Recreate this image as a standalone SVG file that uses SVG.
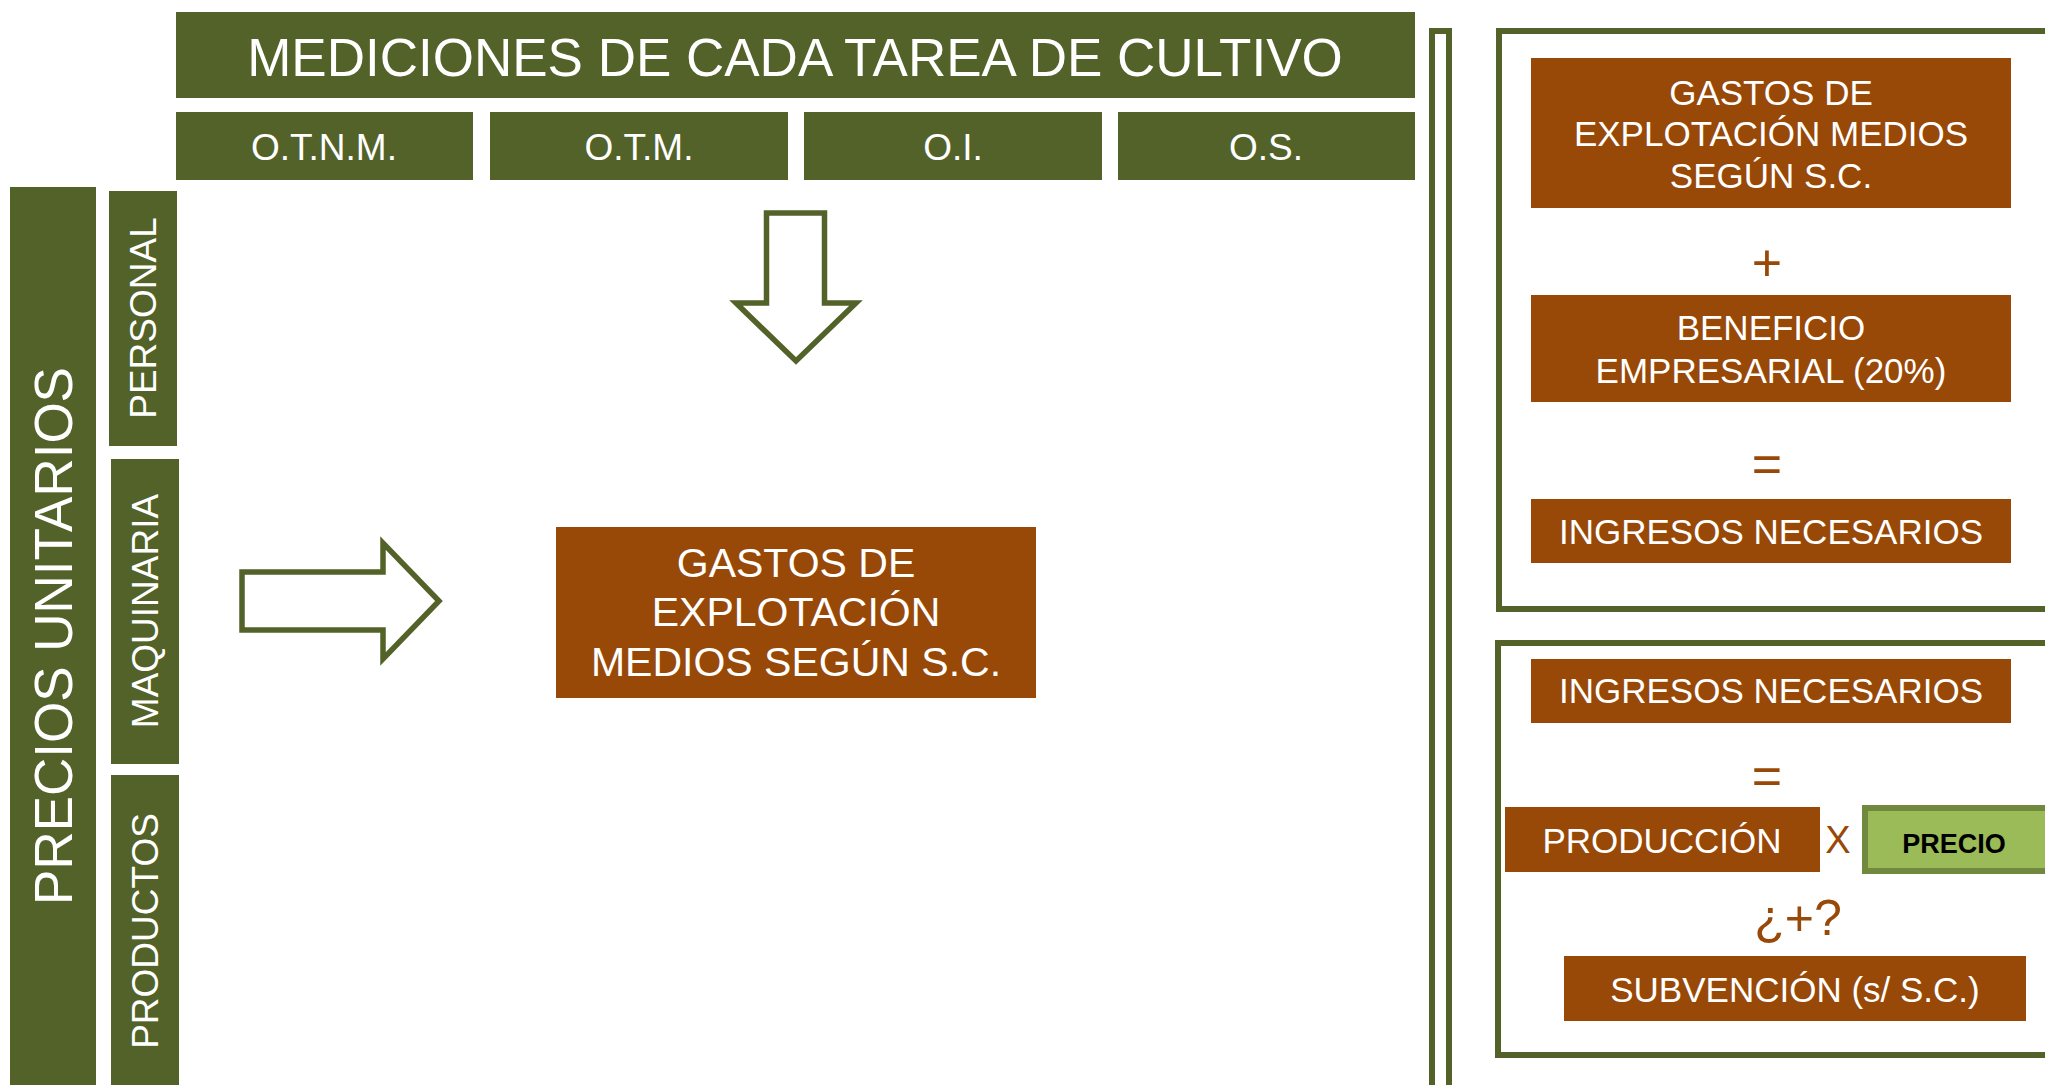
<svg xmlns="http://www.w3.org/2000/svg" width="2045" height="1085" viewBox="0 0 2045 1085">
<style>
.g{fill:#526228}
.b{fill:#984807}
.t{font-family:"Liberation Sans",Arial,sans-serif;fill:#ffffff;text-anchor:middle}
.op{font-family:"Liberation Sans",Arial,sans-serif;fill:#984807;text-anchor:middle}
.frame{fill:none;stroke:#526228;stroke-width:6}
.arrow{fill:#ffffff;stroke:#526228;stroke-width:5.5;stroke-linejoin:miter}
</style>
<rect width="2045" height="1085" fill="#ffffff"/>

<g id="titulo">
<rect class="g" x="176" y="12" width="1239" height="86"/>
<text class="t" x="795" y="76" font-size="53">MEDICIONES DE CADA TAREA DE CULTIVO</text>
</g>
<g id="otnm">
<rect class="g" x="176" y="112" width="297" height="68"/>
<text class="t" x="324" y="160" font-size="37">O.T.N.M.</text>
</g>
<g id="otm">
<rect class="g" x="490" y="112" width="298" height="68"/>
<text class="t" x="639" y="160" font-size="37">O.T.M.</text>
</g>
<g id="oi">
<rect class="g" x="804" y="112" width="298" height="68"/>
<text class="t" x="953" y="160" font-size="37">O.I.</text>
</g>
<g id="os">
<rect class="g" x="1118" y="112" width="297" height="68"/>
<text class="t" x="1266" y="160" font-size="37">O.S.</text>
</g>

<g id="precios-unitarios">
<rect class="g" x="10" y="187" width="86" height="900"/>
<text class="t" font-size="53" transform="translate(72,636) rotate(-90)">PRECIOS UNITARIOS</text>
</g>
<g id="personal">
<rect class="g" x="109" y="191" width="68" height="255"/>
<text class="t" font-size="37" transform="translate(156,318) rotate(-90)">PERSONAL</text>
</g>
<g id="maquinaria">
<rect class="g" x="111" y="459" width="68" height="305"/>
<text class="t" font-size="37" transform="translate(158,611) rotate(-90)">MAQUINARIA</text>
</g>
<g id="productos">
<rect class="g" x="111" y="775" width="68" height="312"/>
<text class="t" font-size="37" transform="translate(158,931) rotate(-90)">PRODUCTOS</text>
</g>

<g id="connectors">
<polygon class="arrow" points="766.5,213 824.5,213 824.5,303 856,303 796,361 736,303 766.5,303"/>
<polygon class="arrow" points="242,572 383,572 383,543 439,601 383,659 383,630 242,630"/>
</g>

<g id="gastos-centro">
<rect class="b" x="556" y="527" width="480" height="171"/>
<text class="t" font-size="41" x="796" y="577">GASTOS DE</text>
<text class="t" font-size="41" x="796" y="626">EXPLOTACIÓN</text>
<text class="t" font-size="41" x="796" y="676">MEDIOS SEGÚN S.C.</text>
</g>

<g id="separador">
<rect x="1432" y="31" width="17" height="1100" fill="#ffffff" stroke="#526228" stroke-width="6"/>
</g>

<g id="panel-superior">
<rect class="frame" x="1499" y="31" width="620" height="578"/>
</g>
<g id="gastos-derecha">
<rect class="b" x="1531" y="58" width="480" height="150"/>
<text class="t" font-size="35" x="1771" y="105">GASTOS DE</text>
<text class="t" font-size="35" x="1771" y="146">EXPLOTACIÓN MEDIOS</text>
<text class="t" font-size="35" x="1771" y="188">SEGÚN S.C.</text>
</g>
<text class="op" font-size="52" x="1767" y="281">+</text>
<g id="beneficio">
<rect class="b" x="1531" y="295" width="480" height="107"/>
<text class="t" font-size="35" x="1771" y="340">BENEFICIO</text>
<text class="t" font-size="35" x="1771" y="383">EMPRESARIAL (20%)</text>
</g>
<text class="op" font-size="52" x="1767" y="482">=</text>
<g id="ingresos-1">
<rect class="b" x="1531" y="499" width="480" height="64"/>
<text class="t" font-size="35" x="1771" y="544">INGRESOS NECESARIOS</text>
</g>

<g id="panel-inferior">
<rect class="frame" x="1498" y="643" width="620" height="412"/>
</g>
<g id="ingresos-2">
<rect class="b" x="1531" y="659" width="480" height="64"/>
<text class="t" font-size="35" x="1771" y="703">INGRESOS NECESARIOS</text>
</g>
<text class="op" font-size="52" x="1767" y="794">=</text>
<g id="produccion">
<rect class="b" x="1505" y="807" width="315" height="65"/>
<text class="t" font-size="35" x="1662" y="853">PRODUCCIÓN</text>
</g>
<text class="op" font-size="38" x="1838" y="853">X</text>
<g id="precio">
<rect x="1865" y="808" width="185" height="63" fill="#9BBB59" stroke="#71893F" stroke-width="6"/>
<text font-family="'Liberation Sans',Arial,sans-serif" font-weight="bold" font-size="27" fill="#000000" text-anchor="middle" x="1954" y="853">PRECIO</text>
</g>
<text class="op" font-size="50" x="1798" y="935">¿+?</text>
<g id="subvencion">
<rect class="b" x="1564" y="956" width="462" height="65"/>
<text class="t" font-size="35" x="1795" y="1002">SUBVENCIÓN (s/ S.C.)</text>
</g>
</svg>
